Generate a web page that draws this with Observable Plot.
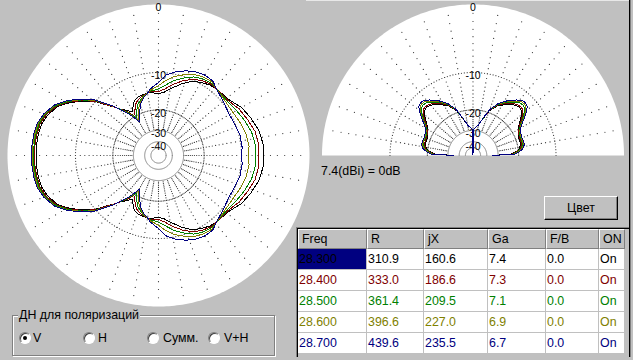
<!DOCTYPE html>
<html><head><meta charset="utf-8">
<script src="https://cdn.jsdelivr.net/npm/d3@7"></script>
<script src="https://cdn.jsdelivr.net/npm/@observablehq/plot@0.6"></script>
<style>
html,body{margin:0;padding:0;background:#c0c0c0;}
#root{position:relative;width:633px;height:360px;overflow:hidden;background:#c0c0c0;font-family:"Liberation Sans",Arial,sans-serif;font-size:12.4px;color:#000;}
.a{position:absolute;}
.cell{position:absolute;box-sizing:border-box;display:flex;align-items:center;white-space:nowrap;overflow:hidden;}
.hd{background:#c0c0c0;border-top:1px solid #fff;border-left:1px solid #fff;border-right:1px solid #808080;border-bottom:1px solid #808080;padding-left:3px;}
.dc{background:#fff;padding-left:1px;}
</style></head>
<body><div id="root"></div>
<script>
// ---------- data ----------
const freqs = [28.300, 28.400, 28.500, 28.600, 28.700];
const resistR = [310.9, 333.0, 361.4, 396.6, 439.6];
const reactX = [160.6, 186.6, 209.5, 227.0, 235.5];
const gainGa = [7.4, 7.3, 7.1, 6.9, 6.7];
const frontBack = [0.0, 0.0, 0.0, 0.0, 0.0];
const onState = ["On", "On", "On", "On", "On"];
const tableHeaders = ["Freq", "R", "jX", "Ga", "F/B", "ON"];
const ringLabelsUpper = [0, -10, -20, -30];
const ringLabelsInner = [-40];
const dottedRings = [-10, -20];
const solidRings = [-30, -40, -50];
const refGainText = "7.4(dBi) = 0dB";
const polOptions = ["V", "H", "Сумм.", "V+H"];

// Horizontal pattern (deg, 0 = right, counter-clockwise; lower half is the mirror image), dB
const azAngles = [0, 6, 14, 22, 30, 39, 49, 54, 60, 66, 72, 79, 85, 91, 97, 100, 104, 108, 112, 114, 116, 118, 119, 120, 121, 122, 124, 126, 129, 132, 135, 139, 144, 149, 154, 160, 165, 170, 175, 180];
const az28300 = [-6.02, -6.02, -6.33, -6.94, -7.57, -8.74, -8.95, -9.18, -9.70, -10.37, -11.59, -13.22, -14.48, -14.96, -14.41, -14.54, -14.67, -14.80, -15.21, -15.57, -16.29, -17.04, -17.44, -17.82, -18.18, -17.98, -17.19, -16.58, -15.57, -14.09, -12.73, -10.31, -8.19, -6.40, -4.99, -4.12, -3.70, -3.57, -3.50, -3.50];
const az28400 = [-6.84, -6.72, -6.97, -7.57, -8.10, -8.93, -8.95, -8.93, -9.31, -9.90, -10.93, -12.38, -13.71, -14.48, -14.22, -14.54, -14.88, -15.29, -16.00, -16.58, -17.50, -18.32, -18.65, -18.99, -19.33, -19.44, -18.15, -17.04, -15.71, -14.09, -12.61, -10.11, -8.01, -6.23, -4.84, -3.91, -3.50, -3.37, -3.30, -3.30];
const az28500 = [-7.40, -7.31, -7.57, -8.10, -8.65, -9.12, -8.95, -8.74, -8.93, -9.41, -10.31, -11.48, -12.85, -13.84, -14.09, -14.54, -15.02, -15.86, -16.88, -17.66, -18.65, -19.69, -20.24, -20.70, -20.43, -19.69, -18.65, -17.34, -15.86, -13.97, -12.38, -9.90, -7.83, -6.07, -4.70, -3.77, -3.37, -3.24, -3.17, -3.17];
const az28600 = [-8.59, -8.46, -8.65, -9.02, -9.41, -9.41, -8.95, -8.46, -8.56, -8.93, -9.60, -10.52, -11.70, -13.10, -13.84, -14.54, -15.15, -16.29, -17.82, -18.65, -19.87, -21.00, -21.60, -21.60, -21.00, -20.43, -18.99, -17.66, -16.00, -13.97, -12.27, -9.80, -7.75, -5.91, -4.55, -3.64, -3.24, -3.10, -3.03, -3.03];
const az28700 = [-9.94, -9.80, -9.80, -10.11, -10.25, -9.80, -8.95, -8.24, -8.14, -8.37, -8.83, -9.60, -10.52, -12.38, -13.54, -14.54, -15.43, -16.58, -18.65, -19.87, -21.00, -22.21, -22.86, -22.42, -21.80, -20.81, -19.33, -17.82, -16.14, -13.84, -12.15, -9.60, -7.57, -5.82, -4.48, -3.57, -3.11, -2.96, -2.90, -2.90];

// Vertical pattern (elevation deg, 0 = horizon, 90 = zenith; the two sides are mirror images), dB
const elAngles = [0, 2, 5, 8, 12, 16, 20, 24, 28, 32, 36, 39, 42, 45, 48, 52, 58, 64, 70, 75, 80, 84, 87, 89, 90];
const el28300 = [-34.2, -23.07, -21.00, -19.69, -18.99, -18.82, -18.82, -18.65, -18.15, -17.34, -16.00, -14.88, -13.97, -13.59, -13.71, -14.22, -15.43, -16.88, -19.33, -23.07, -26.5, -27.9, -28.8, -29.4, -100];
const el28400 = [-34.2, -22.63, -20.62, -19.33, -18.68, -18.51, -18.55, -18.38, -17.89, -17.04, -15.57, -14.43, -13.52, -13.27, -13.39, -13.84, -15.07, -16.58, -19.16, -22.98, -26.5, -27.9, -28.8, -29.4, -100];
const el28500 = [-34.2, -22.21, -20.24, -18.99, -18.32, -18.15, -18.25, -18.15, -17.66, -16.73, -15.15, -13.97, -12.97, -12.61, -12.73, -13.42, -14.75, -16.35, -19.06, -22.94, -26.5, -27.9, -28.8, -29.4, -100];
const el28600 = [-34.2, -21.80, -19.87, -18.65, -17.98, -17.92, -18.05, -17.92, -17.47, -16.49, -14.80, -13.59, -12.54, -12.19, -12.31, -13.10, -14.48, -16.17, -18.92, -22.89, -26.5, -27.9, -28.8, -29.4, -100];
const el28700 = [-34.2, -21.40, -19.51, -18.32, -17.66, -17.66, -17.82, -17.66, -17.28, -16.29, -14.48, -13.22, -12.15, -11.82, -11.93, -12.73, -14.22, -16.00, -18.82, -22.85, -26.5, -27.9, -28.8, -29.4, -100];

// ---------- styles ----------
const seriesColors = ["#000000", "#800000", "#008000", "#808000", "#000080"];
const azSeries = [az28300, az28400, az28500, az28600, az28700];
const elSeries = [el28300, el28400, el28500, el28600, el28700];

// log-polar radial mapping (0 dB = outer edge)
const K = 38.5;
const rad = db => Math.pow(10, db / K);
const X = d => rad(d.db) * Math.cos(d.a * Math.PI / 180);
const Y = d => rad(d.db) * Math.sin(d.a * Math.PI / 180);
const FONT = "'Liberation Sans', Arial, sans-serif";

function gridMarks(full) {
  const a1 = full ? 360 : 180;
  const disc = d3.range(0, a1 + 0.5, 1).map(a => ({a, db: 0}));
  const solid = solidRings.flatMap(db => d3.range(0, a1 + 0.5, 1).map(a => ({a, db, ring: db})));
  const dotted = dottedRings.flatMap(db => d3.range(0, full ? 359 : 180.5, 2).map(a => ({a, db})));
  const spokeA = full ? d3.range(0, 360, 10) : d3.range(10, 180, 10);
  const spokes = spokeA.flatMap(a => d3.range(-29, 0, 1).map(db => ({a, db})));
  const labelOpts = {x: () => 0, y: d => rad(d), text: d => String(d), lineAnchor: "top", fontSize: 10.5, fill: "#000", fontFamily: FONT};
  return [
    Plot.line(disc, {x: X, y: Y, fill: "white", stroke: "none"}),
    Plot.dot(spokes, {x: X, y: Y, r: 0.6, fill: "#303030", stroke: "none"}),
    Plot.dot(dotted, {x: X, y: Y, r: 0.6, fill: "#404040", stroke: "none"}),
    Plot.line(solid, {x: X, y: Y, z: "ring", stroke: "#808080", strokeWidth: 1}),
    Plot.text(ringLabelsUpper, {...labelOpts, dy: -0.5}),
    Plot.text(ringLabelsInner, {...labelOpts, dy: 0.7})
  ];
}

function azLoop(vals) {
  const up = azAngles.map((a, i) => ({a, db: vals[i]}));
  const down = azAngles.map((a, i) => ({a: 360 - a, db: vals[i]})).reverse();
  return up.concat(down);
}
function elPath(vals) {
  const right = elAngles.map((e, i) => ({a: e, db: vals[i]}));
  const left = elAngles.map((e, i) => ({a: 180 - e, db: vals[i]})).reverse();
  return right.concat(left);
}

const R0 = 151;
const azPlot = Plot.plot({
  width: 316, height: 312, margin: 0,
  x: {domain: [-158 / R0, 158 / R0], axis: null},
  y: {domain: [-157 / R0, 155 / R0], axis: null},
  style: {background: "transparent", overflow: "visible", fontFamily: FONT},
  marks: [
    ...gridMarks(true),
    ...azSeries.map((v, i) => Plot.line(azLoop(v), {x: X, y: Y, stroke: seriesColors[i], strokeWidth: 1, shapeRendering: "crispEdges"}))
  ]
});
const elPlot = Plot.plot({
  width: 309, height: 160, margin: 0,
  x: {domain: [-154.5 / R0, 154.5 / R0], axis: null},
  y: {domain: [-5 / R0, 155 / R0], axis: null},
  style: {background: "transparent", overflow: "visible", fontFamily: FONT},
  marks: [
    ...gridMarks(false),
    ...elSeries.map((v, i) => Plot.line(elPath(v), {x: X, y: Y, stroke: seriesColors[i], strokeWidth: 1, shapeRendering: "crispEdges"}))
  ]
});

const root = document.getElementById("root");
function el(tag, cls, css, text) {
  const e = document.createElement(tag);
  if (cls) e.className = cls;
  if (css) e.style.cssText = css;
  if (text !== undefined) e.textContent = text;
  root.appendChild(e);
  return e;
}
// frame lines
el("div", "a", "left:306px;top:0;width:323px;height:1px;background:#e8e8e8;");
el("div", "a", "left:629px;top:0;width:1px;height:357px;background:#000;");
el("div", "a", "left:630px;top:0;width:1px;height:357px;background:#808080;");

const azBox = el("div", "a", "left:0;top:0;");
azBox.appendChild(azPlot);
const elBox = el("div", "a", "left:318px;top:0;");
elBox.appendChild(elPlot);

el("div", "a", "left:321px;top:164px;line-height:15px;", refGainText);

// button
el("div", "a", "left:544px;top:196px;width:74px;height:24px;box-sizing:border-box;border:1px solid;border-color:#fff #000 #000 #fff;box-shadow:inset -1px -1px 0 #808080;display:flex;align-items:center;justify-content:center;", "Цвет");

// table
el("div", "a", "left:296px;top:227px;width:333px;height:130px;box-sizing:border-box;border-top:1px solid #808080;border-left:1px solid #808080;box-shadow:inset 1px 1px 0 #000;");
const colEdges = [298, 367, 424, 488, 546, 599, 625];
tableHeaders.forEach((h, j) => {
  el("div", "cell hd", `left:${colEdges[j]}px;top:229px;width:${colEdges[j + 1] - colEdges[j]}px;height:20px;`, h);
});
freqs.forEach((f, i) => {
  const vals = [f.toFixed(3), resistR[i].toFixed(1), reactX[i].toFixed(1), gainGa[i].toFixed(1), frontBack[i].toFixed(1), onState[i]];
  vals.forEach((v, j) => {
    const sel = (i === 0 && j === 0);
    el("div", "cell dc", `left:${colEdges[j]}px;top:${249 + i * 21}px;width:${colEdges[j + 1] - colEdges[j] - 1}px;height:20px;color:${seriesColors[i]};${sel ? "background:#000080;" : ""}`, v);
  });
});

// polarisation group
el("div", "a", "left:12px;top:315px;width:263px;height:41px;box-sizing:border-box;border:1px solid #808080;box-shadow:inset 1px 1px 0 #fff, 1px 1px 0 #fff;");
el("div", "a", "left:18px;top:307px;line-height:16px;padding:0 1px;background:#c0c0c0;", "ДН для поляризаций");
const radioX = [25, 89, 152.5, 214];
const radioTextX = [33, 98, 163, 224];
polOptions.forEach((o, i) => {
  const c = el("div", "a", `left:${radioX[i] - 6}px;top:332px;width:12px;height:12px;box-sizing:border-box;border-radius:50%;background:#fff;border:1px solid;border-color:#808080 #fff #fff #808080;box-shadow:inset 1px 1px 0 #404040;`);
  if (i === 0) {
    const d = document.createElement("div");
    d.style.cssText = "position:absolute;left:3px;top:3px;width:4px;height:4px;border-radius:50%;background:#000;";
    c.appendChild(d);
  }
  el("div", "a", `left:${radioTextX[i]}px;top:330px;line-height:16px;`, o);
});
</script></body></html>
